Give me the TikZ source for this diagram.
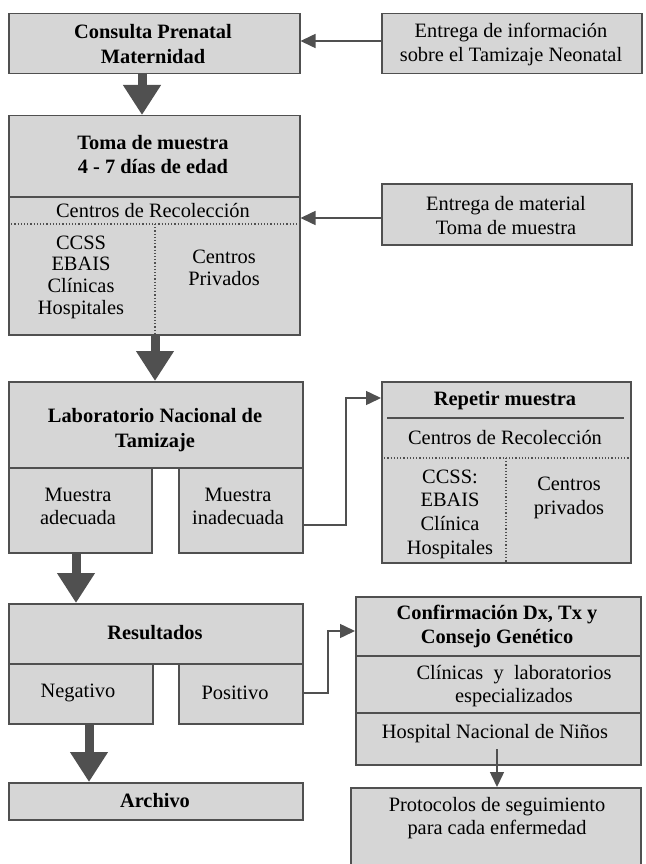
\documentclass[tikz,border=0pt]{standalone}
\usepackage{fontspec}
\setmainfont{Liberation Serif}
\usetikzlibrary{arrows.meta}
\definecolor{boxfill}{RGB}{214,214,214}
\definecolor{edgec}{RGB}{80,80,80}
\begin{document}
\begin{tikzpicture}[x=1pt,y=-1pt,
  box/.style={draw=edgec, fill=boxfill, line width=1.5pt, inner sep=0pt, anchor=north west},
  lbl/.style={align=center, font=\fontsize{20.4}{24}\selectfont, inner sep=0pt, text=black},
  ttl/.style={align=center, font=\fontsize{20.4}{25}\selectfont\bfseries, inner sep=0pt, text=black},
  bigarrow/.style={draw=edgec, line width=9pt, -{Triangle[length=30pt,width=36pt]}},
  thinarrow/.style={draw=edgec, line width=1.5pt, -{Triangle[length=15pt,width=14pt]}},
  solidsep/.style={draw=edgec, line width=1.5pt},
  dotsep/.style={draw=edgec, line width=1.2pt, dotted},
]
\useasboundingbox (0,0) rectangle (645,864);
\clip (0,0) rectangle (645,864);

% top row
\node[box, minimum width=291pt, minimum height=60pt] (cons) at (8,13) {};
\node[ttl] (consT) at (153,44) {Consulta Prenatal\\Maternidad};
\node[box, minimum width=260pt, minimum height=60pt] (info) at (381,13) {};
\node[lbl] (infoT) at (511,44) {Entrega de información\\sobre el Tamizaje Neonatal};
\coordinate (c0) at (info.west |- 0,41);
\draw[thinarrow] (c0) -- (c0 -| cons.east);

% toma de muestra
\node[box, minimum width=291pt, minimum height=219pt] (toma) at (8,115) {};
\coordinate (a1s) at (142,73);
\draw[bigarrow] (a1s) -- (a1s |- toma.north);
\node[ttl, font=\fontsize{20.4}{24}\selectfont\bfseries] (tomaT) at (153,155) {Toma de muestra\\4 - 7 días de edad};
\draw[solidsep] (toma.west |- 0,197) -- (toma.east |- 0,197);
\node[lbl] (tomaC) at (153,211) {Centros de Recolección};
\draw[dotsep] (toma.west |- 0,224) -- (toma.east |- 0,224);
\draw[dotsep] (155,224) -- (155,334);
\node[lbl, font=\fontsize{20.4}{21.7}\selectfont] (tomaL) at (81,277) {CCSS\\EBAIS\\Clínicas\\Hospitales};
\node[lbl, font=\fontsize{20.4}{22}\selectfont] (tomaR) at (224,268) {Centros\\Privados};

\node[box, minimum width=250pt, minimum height=61pt] (mat) at (381,183) {};
\node[lbl] (matT) at (506,216) {Entrega de material\\Toma de muestra};
\coordinate (c00) at (mat.west |- 0,218);
\draw[thinarrow] (c00) -- (c00 -| toma.east);

% laboratorio
\node[box, minimum width=294pt, minimum height=86pt] (lab) at (8,381) {};
\coordinate (a2s) at (155,334);
\draw[bigarrow] (a2s) -- (a2s |- lab.north);
\node[ttl] (labT) at (155,430) {Laboratorio Nacional de\\Tamizaje};
\node[box, minimum width=143pt, minimum height=85pt] (ade) at (8,467) {};
\node[lbl, font=\fontsize{20.4}{23}\selectfont] (adeT) at (78,506) {Muestra\\adecuada};
\node[box, minimum width=124pt, minimum height=85pt] (inad) at (178,467) {};
\node[lbl, font=\fontsize{20.4}{23}\selectfont] (inadT) at (238,506) {Muestra\\inadecuada};

% repetir muestra
\node[box, minimum width=249pt, minimum height=181pt] (rep) at (381,381) {};
\node[ttl] (repT) at (505,401) {Repetir muestra};
\draw[solidsep] (387,418) -- (624,418);
\node[lbl] (repC) at (505,438) {Centros de Recolección};
\draw[dotsep] (rep.west |- 0,458) -- (rep.east |- 0,458);
\draw[dotsep] (506,458) -- (506,562);
\node[lbl, font=\fontsize{20.4}{23.7}\selectfont] (repL) at (450,514) {CCSS:\\EBAIS\\Clínica\\Hospitales};
\node[lbl, font=\fontsize{20.4}{24}\selectfont] (repR) at (569,498) {Centros\\privados};
\coordinate (c1) at (inad.east |- 0,525);
\coordinate (c1t) at (rep.west |- 0,398);
\draw[thinarrow] (c1) -- (346,525) |- (c1t);

% resultados
\node[box, minimum width=294pt, minimum height=60pt] (res) at (8,603) {};
\coordinate (a3s) at (76,552);
\draw[bigarrow] (a3s) -- (a3s |- res.north);
\node[ttl] (resT) at (155,633) {Resultados};
\node[box, minimum width=144pt, minimum height=60pt] (neg) at (8,663) {};
\node[lbl] (negT) at (78,693) {Negativo};
\node[box, minimum width=124pt, minimum height=60pt] (pos) at (178,663) {};
\node[lbl] (posT) at (235,693) {Positivo};

% archivo
\node[box, minimum width=294pt, minimum height=37pt] (arch) at (8,782) {};
\coordinate (a4s) at (89,723);
\draw[bigarrow] (a4s) -- (a4s |- arch.north);
\node[ttl] (archT) at (155,801) {Archivo};

% confirmacion
\node[box, minimum width=285pt, minimum height=168pt] (conf) at (355,596) {};
\node[ttl, font=\fontsize{20.4}{24}\selectfont\bfseries] (confT) at (497,626) {Confirmación Dx, Tx y\\Consejo Genético};
\draw[solidsep] (conf.west |- 0,656) -- (conf.east |- 0,656);
\draw[solidsep] (conf.west |- 0,713) -- (conf.east |- 0,713);
\node[lbl, font=\fontsize{20.4}{23}\selectfont] (confC) at (514,686) {Clínicas\ \ y\ \ laboratorios\\especializados};
\node[lbl] (confH) at (495,734) {Hospital Nacional de Niños};
\coordinate (c2) at (pos.east |- 0,693);
\coordinate (c2t) at (conf.west |- 0,631);
\draw[thinarrow] (c2) -- (328,693) |- (c2t);

% protocolos
\node[box, minimum width=290pt, minimum height=92pt] (prot) at (350,787) {};
\node[lbl, font=\fontsize{20.4}{23}\selectfont] (protT) at (497,818) {Protocolos de seguimiento\\para cada enfermedad};
\coordinate (c3) at (497,749);
\draw[thinarrow] (c3) -- (c3 |- prot.north);
\end{tikzpicture}
\end{document}
